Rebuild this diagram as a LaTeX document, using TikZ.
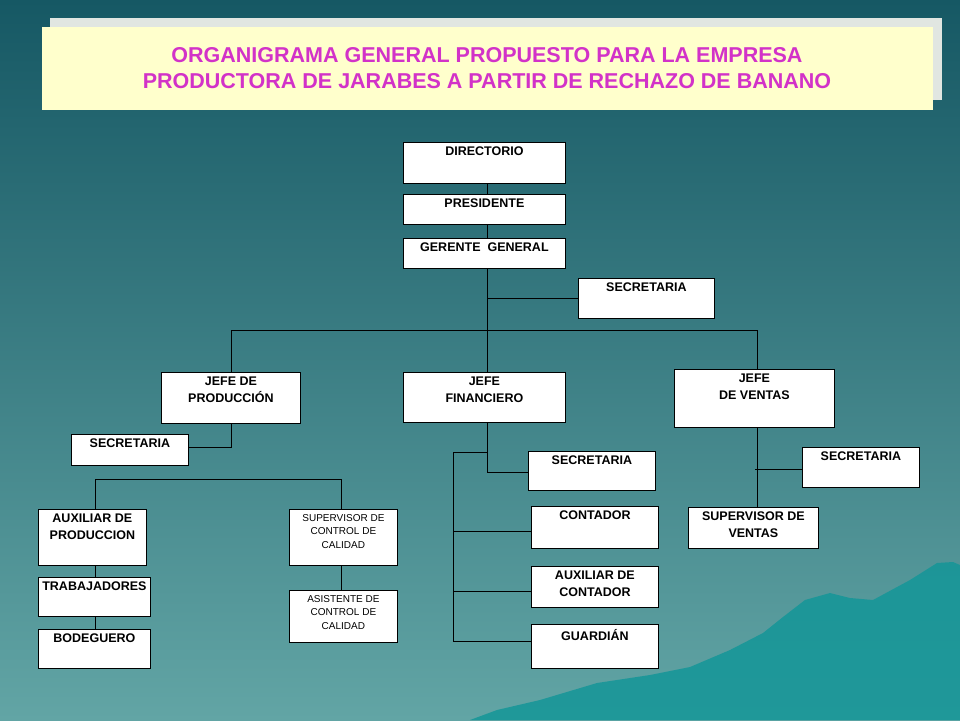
\documentclass[tikz,border=0pt]{standalone}
\usepackage{fontspec}
\setmainfont{Liberation Sans}
\definecolor{bgtop}{RGB}{22,88,100}
\definecolor{bgbot}{RGB}{98,165,165}
\definecolor{mount}{RGB}{20,150,152}
\definecolor{shad}{RGB}{225,230,225}
\definecolor{ttlfill}{RGB}{255,255,204}
\definecolor{ttltext}{RGB}{210,50,200}
\begin{document}
\begin{tikzpicture}[x=1pt,y=-1pt,
  box/.style={draw=black,fill=white,line width=0.8pt,anchor=north west,inner sep=0pt},
  txt/.style={anchor=north,font=\bfseries\fontsize{12.5}{17}\selectfont,align=center,inner sep=2pt,yshift=-3pt},
  stxt/.style={txt,font=\fontsize{10}{13.5}\selectfont},
  ln/.style={draw=black,line width=0.8pt}]
\useasboundingbox (0,0) rectangle (960,720);
\shade[top color=bgtop,bottom color=bgbot] (0,0) rectangle (960,720);
\fill[mount,opacity=0.85] (470,720) -- (497,710) -- (540,700) -- (597,683) -- (650,675) -- (690,667) -- (730,650) -- (763,633) -- (783,617) -- (805,600) -- (830,593) -- (850,598) -- (873,600) -- (910,580) -- (937,563) -- (953,562) -- (960,565) -- (960,720) -- cycle;
% title
\fill[shad] (50,18) rectangle (942,100);
\node[box,draw=none,fill=ttlfill,minimum width=891,minimum height=83] (title) at (42,27) {};
\node[font=\bfseries\fontsize{21.5}{26}\selectfont,text=ttltext,align=center] (tt) at (487,68) {ORGANIGRAMA GENERAL PROPUESTO PARA LA EMPRESA\\PRODUCTORA DE JARABES A PARTIR DE RECHAZO DE BANANO};
% connectors
\draw[ln] (487,183) -- (487,372);
\draw[ln] (487,298) -- (578,298);
\draw[ln] (231,372) -- (231,330) -- (757,330) -- (757,369);
\draw[ln] (231,423) -- (231,447) -- (188,447);
\draw[ln] (95,509) -- (95,479) -- (341,479) -- (341,509);
\draw[ln] (95,565) -- (95,577); \draw[ln] (95,616) -- (95,629);
\draw[ln] (341,565) -- (341,590);
\draw[ln] (487,422) -- (487,472) -- (528,472);
\draw[ln] (487,452) -- (453,452) -- (453,641) -- (531,641);
\draw[ln] (453,531) -- (531,531); \draw[ln] (453,591) -- (531,591);
\draw[ln] (757,427) -- (757,507);
\draw[ln] (755,469) -- (802,469);
% boxes
\newcommand{\bx}[7]{\node[box,minimum width=#4-#2,minimum height=#5-#3] (#1) at (#2,#3) {};\node[#7] at (#1.north) {#6};}
\bx{dir}{403}{142}{565}{183}{DIRECTORIO}{txt}
\bx{pre}{403}{194}{565}{224}{PRESIDENTE}{txt}
\bx{ger}{403}{238}{565}{268}{GERENTE\ \ GENERAL}{txt}
\bx{sec1}{578}{278}{714}{318}{SECRETARIA}{txt}
\bx{jp}{161}{372}{300}{423}{JEFE DE\\PRODUCCIÓN}{txt}
\bx{jf}{403}{372}{565}{422}{JEFE\\FINANCIERO}{txt}
\bx{jv}{674}{369}{834}{427}{JEFE\\DE VENTAS}{txt}
\bx{secp}{71}{434}{188}{465}{SECRETARIA}{txt}
\bx{aux}{38}{509}{146}{565}{AUXILIAR DE\\PRODUCCION}{txt}
\bx{trab}{38}{577}{150}{616}{TRABAJADORES}{txt}
\bx{bod}{38}{629}{150}{668}{BODEGUERO}{txt}
\bx{sup}{289}{509}{397}{565}{SUPERVISOR DE\\CONTROL DE\\CALIDAD}{stxt}
\bx{asi}{289}{590}{397}{642}{ASISTENTE DE\\CONTROL DE\\CALIDAD}{stxt}
\bx{secf}{528}{451}{655}{490}{SECRETARIA}{txt}
\bx{con}{531}{506}{658}{548}{CONTADOR}{txt}
\bx{acon}{531}{566}{658}{607}{AUXILIAR DE\\CONTADOR}{txt}
\bx{gua}{531}{624}{658}{668}{GUARDIÁN}{txt}
\bx{secv}{802}{447}{919}{487}{SECRETARIA}{txt}
\bx{supv}{688}{507}{818}{548}{SUPERVISOR DE\\VENTAS}{txt}
\end{tikzpicture}
\end{document}
